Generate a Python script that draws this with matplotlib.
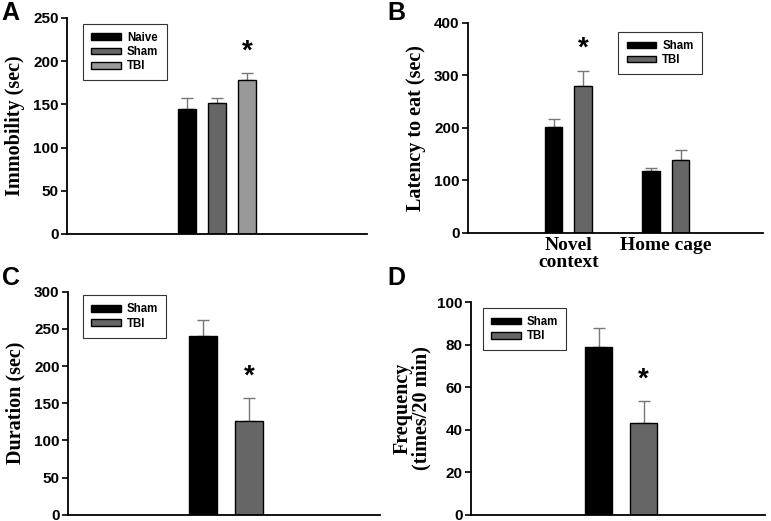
import numpy as np
import matplotlib
matplotlib.use("Agg")
import matplotlib.pyplot as plt

# ---- data ----
a_groups = ["Naive", "Sham", "TBI"]
a_means = [145, 152, 178]
a_err = [12, 5, 8]

b_cats = ["Novel\ncontext", "Home cage"]
b_groups = ["Sham", "TBI"]
b_sham = [201, 117]
b_sham_err = [16, 7]
b_tbi = [279, 139]
b_tbi_err = [29, 18]

c_groups = ["Sham", "TBI"]
c_means = [240, 126]
c_err = [22, 31]

d_groups = ["Sham", "TBI"]
d_means = [79, 43]
d_err = [9, 10.5]

BLACK = "#000000"
DARK = "#666666"
LIGHT = "#999999"
ERRC = "#777777"

plt.rcParams["font.family"] = ["Liberation Sans", "DejaVu Sans"]
ylab_font = dict(family="Liberation Serif", weight="bold", size=14.5)

fig = plt.figure(figsize=(7.71, 5.21), dpi=100)


def style_axes(ax, ylim, yticks):
    ax.set_ylim(*ylim)
    ax.set_yticks(yticks)
    ax.set_xlim(0, 10)
    for s in ["top", "right"]:
        ax.spines[s].set_visible(False)
    ax.spines["left"].set_linewidth(1.3)
    ax.spines["bottom"].set_linewidth(1.3)
    ax.tick_params(axis="y", direction="out", length=4, width=1.2, pad=2)
    ax.tick_params(axis="x", length=0)
    ax.set_xticks([])
    for lab in ax.get_yticklabels():
        lab.set_fontfamily("Liberation Sans")
        lab.set_fontweight("bold")
        lab.set_fontsize(11)


def add_legend(ax, loc, anchor):
    leg = ax.legend(loc=loc, bbox_to_anchor=anchor, frameon=True, fancybox=False,
                    edgecolor="black", handlelength=2.6, handleheight=0.5,
                    borderpad=0.7, labelspacing=0.2, handletextpad=0.5,
                    prop=dict(family="Liberation Sans", weight="bold", size=8.3))
    leg.get_frame().set_linewidth(0.8)
    return leg


def bars(ax, x, h, e, color, width, label):
    ax.bar(x, h, width=width, color=color, edgecolor="black", linewidth=1.0,
           label=label, zorder=2)
    ax.errorbar(x, h, yerr=[np.zeros_like(np.atleast_1d(e)), e], fmt="none",
                ecolor=ERRC, elinewidth=1.0, capsize=4, capthick=1.0, zorder=1)


def star(ax, x, y):
    ax.text(x, y, "*", ha="center", va="bottom", fontsize=20, fontweight="bold")


# ---- panel A ----
axA = fig.add_axes([0.0869, 0.551, 0.389, 0.4145])
colorsA = [BLACK, DARK, LIGHT]
xA = [4, 5, 6]
for x, m, e, c, g in zip(xA, a_means, a_err, colorsA, a_groups):
    bars(axA, [x], [m], [e], c, 0.63, g)
style_axes(axA, (0, 250), [0, 50, 100, 150, 200, 250])
axA.set_ylabel("Immobility (sec)", labelpad=6, **ylab_font)
star(axA, xA[2], a_means[2] + a_err[2] + 10)
add_legend(axA, "upper left", (0.035, 1.0))
fig.text(0.002, 0.998, "A", ha="left", va="top", fontsize=18, fontweight="bold")

# ---- panel B ----
axB = fig.add_axes([0.607, 0.553, 0.383, 0.403])
xB = np.array([3.4, 6.7])
bars(axB, xB - 0.5, b_sham, b_sham_err, BLACK, 0.6, b_groups[0])
bars(axB, xB + 0.5, b_tbi, b_tbi_err, DARK, 0.6, b_groups[1])
style_axes(axB, (0, 400), [0, 100, 200, 300, 400])
axB.set_xticks(xB)
axB.set_xticklabels(b_cats, family="Liberation Serif", fontweight="bold",
                    fontsize=14, linespacing=1.0)
axB.tick_params(axis="x", pad=3)
axB.set_ylabel("Latency to eat (sec)", labelpad=6, **ylab_font)
star(axB, xB[0] + 0.5, b_tbi[0] + b_tbi_err[0] + 18)
add_legend(axB, "upper left", (0.49, 0.985))
fig.text(0.503, 0.998, "B", ha="left", va="top", fontsize=18, fontweight="bold")

# ---- panel C ----
axC = fig.add_axes([0.0882, 0.012, 0.405, 0.428])
xC = [4.33, 5.8]
for x, m, e, c, g in zip(xC, c_means, c_err, [BLACK, DARK], c_groups):
    bars(axC, [x], [m], [e], c, 0.9, g)
style_axes(axC, (0, 300), [0, 50, 100, 150, 200, 250, 300])
axC.set_ylabel("Duration (sec)", labelpad=6, **ylab_font)
star(axC, xC[1], c_means[1] + c_err[1] + 12)
add_legend(axC, "upper left", (0.03, 1.01))
fig.text(0.002, 0.49, "C", ha="left", va="top", fontsize=18, fontweight="bold")

# ---- panel D ----
axD = fig.add_axes([0.611, 0.012, 0.381, 0.408])
xD = [4.34, 5.87]
for x, m, e, c, g in zip(xD, d_means, d_err, [BLACK, DARK], d_groups):
    bars(axD, [x], [m], [e], c, 0.92, g)
style_axes(axD, (0, 100), [0, 20, 40, 60, 80, 100])
axD.set_ylabel("Frequency\n(times/20 min)", labelpad=4, linespacing=0.95,
               **ylab_font)
star(axD, xD[1], d_means[1] + d_err[1] + 4)
add_legend(axD, "upper left", (0.02, 1.0))
fig.text(0.503, 0.49, "D", ha="left", va="top", fontsize=18, fontweight="bold")

fig.savefig("out.png", dpi=100)
